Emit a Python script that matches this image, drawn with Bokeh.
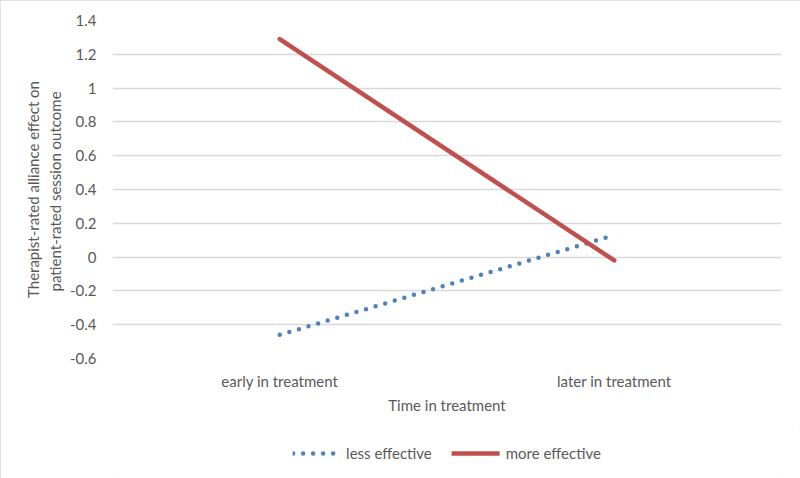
from bokeh.plotting import figure
from bokeh.layouts import column
from bokeh.models import (FactorRange, Range1d, FixedTicker, CustomJSTickFormatter,
                          Legend, LegendItem)
from bokeh.embed import file_html
from bokeh.resources import INLINE

categories = ["early in treatment", "later in treatment"]
less_effective = [-0.46, 0.13]
more_effective = [1.29, -0.02]
y_ticks = [-0.6, -0.4, -0.2, 0.0, 0.2, 0.4, 0.6, 0.8, 1.0, 1.2, 1.4]
series_names = ["less effective", "more effective"]

FONT = "Lato"
GRAY = "#595959"
FS = "15px"
BLUE = "#4f81bd"
RED = "#c0504d"

p = figure(width=800, height=428, output_backend="svg", toolbar_location=None,
           x_range=FactorRange(factors=categories, range_padding=0),
           y_range=Range1d(-0.6, 1.4),
           min_border_left=112, min_border_right=19, min_border_top=20, min_border_bottom=70)
p.outline_line_color = None
p.background_fill_color = "white"
p.border_fill_color = "white"

p.line(categories, less_effective, line_color=BLUE, line_width=4.5,
       line_dash="0 10", line_cap="round")
p.line(categories, more_effective, line_color=RED, line_width=4.5, line_cap="round")

p.yaxis.ticker = FixedTicker(ticks=y_ticks)
p.yaxis.formatter = CustomJSTickFormatter(code="return tick.toFixed(1).replace(/\\.0$/, '').replace(/^-0$/, '0');")
for ax in (p.xaxis[0], p.yaxis[0]):
    ax.axis_line_color = None
    ax.major_tick_line_color = None
    ax.minor_tick_line_color = None
    ax.major_label_text_font = FONT
    ax.major_label_text_font_size = FS
    ax.major_label_text_color = GRAY
    ax.axis_label_text_font = FONT
    ax.axis_label_text_font_size = FS
    ax.axis_label_text_color = GRAY
    ax.axis_label_text_font_style = "normal"

p.yaxis.axis_label = "Therapist-rated alliance effect on\npatient-rated  session outcome"
p.yaxis.major_label_standoff = 10
p.yaxis.axis_label_standoff = 3
p.xaxis.axis_label = "Time in treatment"
p.xaxis.major_label_standoff = 7
p.xaxis.axis_label_standoff = 3

p.xgrid.grid_line_color = None
p.ygrid.ticker = FixedTicker(ticks=y_ticks)
p.ygrid.grid_line_color = "#d9d9d9"
p.ygrid.grid_line_width = 1.3

# Legend strip below the chart (series drawn off-view so only the legend shows)
p2 = figure(width=800, height=50, output_backend="svg", toolbar_location=None,
            x_range=FactorRange(factors=categories, range_padding=0),
            y_range=Range1d(10, 11),
            x_axis_location=None, y_axis_location=None, min_border=0)
p2.outline_line_color = None
p2.grid.visible = False
p2.background_fill_color = "white"
p2.border_fill_color = "white"
lb = p2.line(categories, less_effective, line_color=BLUE, line_width=4.5,
             line_dash="0 10", line_cap="round")
lr = p2.line(categories, more_effective, line_color=RED, line_width=4.5, line_cap="round")
legend = Legend(items=[LegendItem(label=series_names[0], renderers=[lb]),
                       LegendItem(label=series_names[1], renderers=[lr])],
                orientation="horizontal", location="center",
                label_text_font=FONT, label_text_font_size=FS, label_text_color=GRAY,
                glyph_width=48, glyph_height=16, spacing=20, label_standoff=6,
                border_line_color=None, background_fill_alpha=0, margin=0, padding=2)
p2.add_layout(legend, "center")

layout = column(p, p2, spacing=0,
                styles={"outline": "1px solid #d9d9d9", "outline-offset": "-1px"})

open("out.html", "w").write(file_html(layout, INLINE))
